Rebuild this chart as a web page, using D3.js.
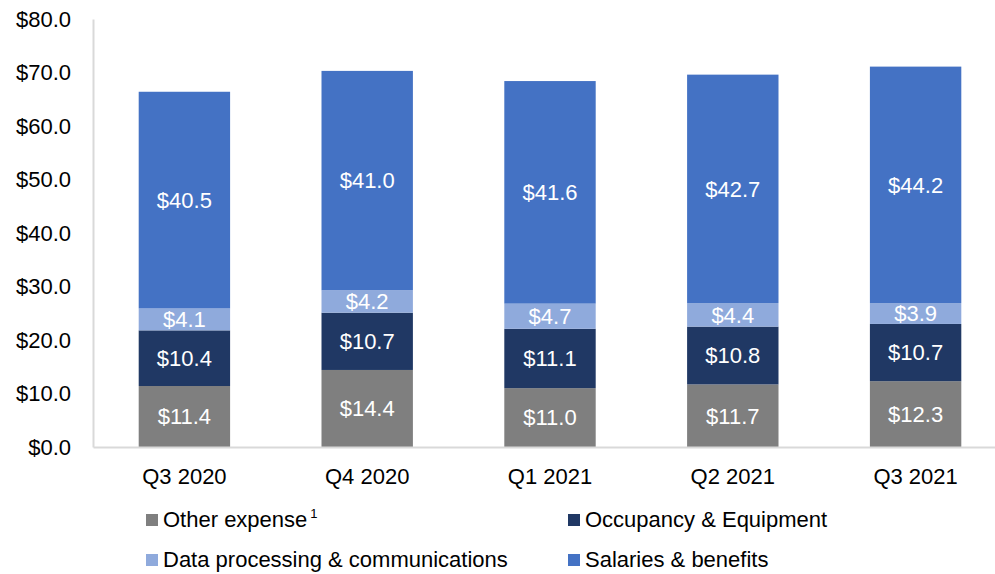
<!DOCTYPE html>
<html>
<head>
<meta charset="utf-8">
<script src="https://cdn.jsdelivr.net/npm/d3@7"></script>
<style>
  body { margin: 0; background: #fff; }
  svg text { font-family: "Liberation Sans", Arial, sans-serif; }
</style>
</head>
<body>
<div id="chart"></div>
<script>
"use strict";

var quarters = ["Q3 2020", "Q4 2020", "Q1 2021", "Q2 2021", "Q3 2021"];
var otherExpense = [11.4, 14.4, 11.0, 11.7, 12.3];
var occupancy = [10.4, 10.7, 11.1, 10.8, 10.7];
var dataProcessing = [4.1, 4.2, 4.7, 4.4, 3.9];
var salaries = [40.5, 41.0, 41.6, 42.7, 44.2];
var yTicks = [0, 10, 20, 30, 40, 50, 60, 70, 80];

var seriesNames = ["Other expense", "Occupancy & Equipment", "Data processing & communications", "Salaries & benefits"];
var seriesValues = [otherExpense, occupancy, dataProcessing, salaries];
var colors = ["#7f7f7f", "#203864", "#8faadc", "#4472c4"];

var specs = {
    w: 995,
    h: 574,
    left: 93,
    right: 1007,
    top: 19,
    bottom: 447,
    font: "22px"
};

var svg = d3.select("#chart").append("svg")
    .attr("width", specs.w)
    .attr("height", specs.h);

var x = d3.scaleBand()
    .domain(quarters)
    .range([specs.left, specs.right])
    .paddingInner(0.5)
    .paddingOuter(0.25);

var y = d3.scaleLinear()
    .domain([0, 80])
    .range([specs.bottom, specs.top]);

// build stacked rows from the arrays
var rows = quarters.map(function(q, i) {
    var r = { quarter: q };
    seriesNames.forEach(function(name, k) { r[name] = seriesValues[k][i]; });
    return r;
});
var stacked = d3.stack().keys(seriesNames)(rows);

// bars
var layers = svg.selectAll("g.layer")
    .data(stacked)
    .enter()
    .append("g")
    .attr("class", "layer")
    .attr("fill", function(d, i) { return colors[i]; });

layers.selectAll("rect")
    .data(function(d) { return d; })
    .enter()
    .append("rect")
    .attr("x", function(d) { return x(d.data.quarter); })
    .attr("y", function(d) { return y(d[1]); })
    .attr("width", x.bandwidth())
    .attr("height", function(d) { return y(d[0]) - y(d[1]); });

// value labels
layers.selectAll("text")
    .data(function(d) { return d; })
    .enter()
    .append("text")
    .attr("x", function(d) { return x(d.data.quarter) + x.bandwidth() / 2; })
    .attr("y", function(d) { return (y(d[0]) + y(d[1])) / 2; })
    .attr("dy", "0.36em")
    .attr("text-anchor", "middle")
    .attr("fill", "#fff")
    .style("font-size", specs.font)
    .text(function(d) { return "$" + (d[1] - d[0]).toFixed(1); });

// axes
var yAxis = svg.append("g")
    .attr("transform", "translate(" + specs.left + ",0)")
    .call(d3.axisLeft(y).tickValues(yTicks).tickSize(0).tickPadding(22)
        .tickFormat(function(d) { return "$" + d.toFixed(1); }));
yAxis.select(".domain").attr("stroke", "#d9d9d9").attr("stroke-width", 2);
yAxis.selectAll("text").style("font-size", specs.font).attr("fill", "#000");

var xAxis = svg.append("g")
    .attr("transform", "translate(0," + specs.bottom + ")")
    .call(d3.axisBottom(x).tickSize(0).tickPadding(21));
xAxis.select(".domain").attr("stroke", "#d9d9d9").attr("stroke-width", 2);
xAxis.selectAll("text").style("font-size", specs.font).attr("fill", "#000");

// legend
var legendPos = [[146, 520], [568, 520], [146, 560], [568, 560]];
var legend = svg.selectAll("g.legend")
    .data(seriesNames)
    .enter()
    .append("g")
    .attr("class", "legend")
    .attr("transform", function(d, i) { return "translate(" + legendPos[i][0] + "," + legendPos[i][1] + ")"; });

legend.append("rect")
    .attr("x", 0)
    .attr("y", -6)
    .attr("width", 12)
    .attr("height", 12)
    .attr("fill", function(d, i) { return colors[i]; });

var legendText = legend.append("text")
    .attr("x", 17)
    .attr("dy", "0.34em")
    .style("font-size", specs.font)
    .attr("fill", "#000")
    .text(function(d) { return d; });

// footnote marker on "Other expense"
d3.select(legendText.nodes()[0]).append("tspan")
    .attr("dx", 3)
    .attr("dy", "-0.7em")
    .style("font-size", "13px")
    .text("1");
</script>
</body>
</html>
